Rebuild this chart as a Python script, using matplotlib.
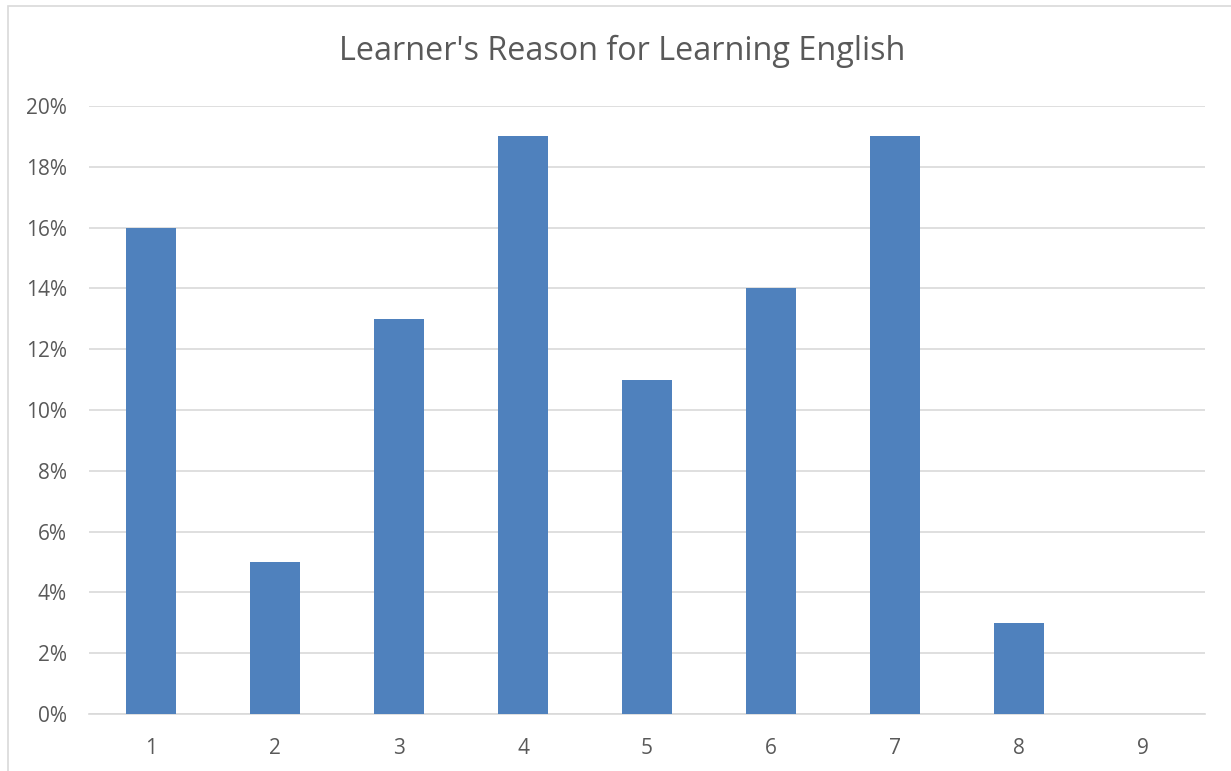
import matplotlib
matplotlib.use("Agg")
import matplotlib.pyplot as plt
from matplotlib.patches import Rectangle

# data
reasons = ["1", "2", "3", "4", "5", "6", "7", "8", "9"]
share = [16, 5, 13, 19, 11, 14, 19, 3, 0]   # percent
yticks = [0, 2, 4, 6, 8, 10, 12, 14, 16, 18, 20]

plt.rcParams['font.family'] = ['Open Sans', 'DejaVu Sans']
txt = '#595959'

W, H = 1231, 771
fig = plt.figure(figsize=(W / 100, H / 100), dpi=100)

# chart border (cropped excel chart: only top and left edges visible)
fig.patches.append(Rectangle((8 / W, -0.05), 1.1, 1 - 6 / H + 0.05,
                             transform=fig.transFigure, fill=False,
                             edgecolor='#D9D9D9', linewidth=1.2))

ax = fig.add_axes([89 / W, 1 - 714 / H, (1205 - 89) / W, (714 - 106) / H])
x = list(range(len(reasons)))
ax.bar(x, share, width=0.4, color='#4F81BD', zorder=3)

ax.set_xlim(-0.5, len(reasons) - 0.5)
ax.set_ylim(0, 20)
ax.set_yticks(yticks)
ax.set_yticklabels([f"{v}%" for v in yticks])
ax.set_xticks(x)
ax.set_xticklabels(reasons)
ax.yaxis.grid(True, color='#D9D9D9', linewidth=1.2, zorder=0)
ax.tick_params(length=0, labelsize=15, colors=txt)
ax.tick_params(axis='x', pad=17)
ax.tick_params(axis='y', pad=16)
for s in ['top', 'right', 'left']:
    ax.spines[s].set_visible(False)
ax.spines['bottom'].set_color('#D9D9D9')
ax.spines['bottom'].set_linewidth(1.2)

fig.text(622 / W, 1 - 51 / H, "Learner's Reason for Learning English",
         ha='center', va='center', fontsize=23.3, color=txt)

fig.savefig("out.png", dpi=100)
